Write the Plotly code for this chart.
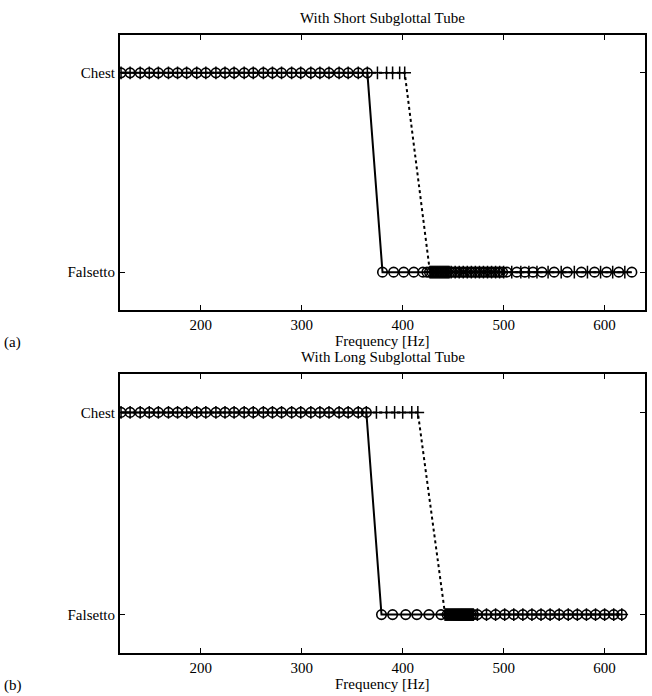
import plotly.graph_objects as go

# ---------------- data (frequencies in Hz; register: 1 = Chest, 0 = Falsetto) -------------
y_tick_vals = [1, 0]
y_tick_text = ["Chest", "Falsetto"]
x_tick_vals = [200, 300, 400, 500, 600]

# (a) short subglottal tube
a_up_chest_f = [121, 130, 140, 149, 158, 168, 177, 186, 196, 205, 215, 224, 233, 243,
                252, 262, 271, 280, 290, 299, 309, 318, 327, 337, 346, 356, 365]
a_up_fals_f = [380, 391, 401, 411, 420, 424, 426.5, 429, 431.5, 434, 436.5, 439, 441.5,
               444, 446.5, 449, 451.5, 454, 456.5, 459, 461.5, 464, 466.5, 469, 471.5,
               474, 476.5, 479, 481.5, 484, 486.5, 489, 491.5, 494, 496.5, 499,
               503, 513, 521, 529, 538, 550, 563, 577, 590, 602, 614, 627]
a_dn_chest_f = [121, 130, 140, 149, 158, 168, 177, 186, 196, 205, 215, 224, 233, 243,
                252, 262, 271, 280, 290, 299, 309, 318, 327, 337, 346, 356, 365,
                375, 384, 390, 397, 402]
a_dn_fals_f = [427, 428, 429, 430, 431, 432, 433, 434, 435, 436, 437, 438, 439, 440,
               441, 442, 443, 444, 445, 446, 448, 452, 456, 460, 464, 468, 472, 476,
               480, 484, 488, 492, 496, 500, 508, 517, 525, 533, 544, 557, 570, 583,
               596, 608, 620]

# (b) long subglottal tube
b_up_chest_f = [121, 130, 140, 149, 158, 168, 177, 186, 196, 205, 215, 224, 233, 243,
                252, 262, 271, 280, 290, 299, 309, 318, 327, 337, 346, 356, 364]
b_up_fals_f = [379, 390, 403, 414, 426, 438, 444, 446, 448, 450, 452, 454, 456, 458,
               460, 462, 464, 466, 468, 470, 474, 483, 492, 501, 510, 519, 528, 537,
               546, 555, 564, 573, 582, 591, 600, 609, 617]
b_dn_chest_f = [121, 130, 140, 149, 158, 168, 177, 186, 196, 205, 215, 224, 233, 243,
                252, 262, 271, 280, 290, 299, 309, 318, 327, 337, 346, 356, 364,
                374, 384, 392, 400, 409, 415]
b_dn_fals_f = [442, 443, 444, 445, 446, 447, 448, 449, 450, 451, 452, 453, 454, 455,
               456, 457, 458, 459, 460, 461, 462, 463, 464, 465, 466, 467, 468, 469,
               470, 474, 483, 492, 501, 510, 519, 528, 537, 546, 555, 564, 573, 582,
               591, 600, 609, 617]

titles = ["With Short Subglottal Tube", "With Long Subglottal Tube"]
panel_labels = ["(a)", "(b)"]
x_title = "Frequency [Hz]"

# ---------------- figure ----------------
W, H = 652, 696
FONT = "Liberation Serif"
fig = go.Figure()

def add_panel(up_c, up_f, dn_c, dn_f, xa, ya):
    up_x = up_c + up_f
    up_y = [1] * len(up_c) + [0] * len(up_f)
    dn_x = dn_c + dn_f
    dn_y = [1] * len(dn_c) + [0] * len(dn_f)
    fig.add_trace(go.Scatter(x=dn_x, y=dn_y, mode="lines+markers", xaxis=xa, yaxis=ya,
                             line=dict(color="black", width=2, dash="dot"),
                             marker=dict(symbol="cross-thin", size=9, color="black",
                                         line=dict(color="black", width=1.5)),
                             showlegend=False))
    fig.add_trace(go.Scatter(x=up_x, y=up_y, mode="lines+markers", xaxis=xa, yaxis=ya,
                             line=dict(color="black", width=2),
                             marker=dict(symbol="circle-open", size=9.5, color="black",
                                         line=dict(color="black", width=1.6)),
                             showlegend=False))

add_panel(a_up_chest_f, a_up_fals_f, a_dn_chest_f, a_dn_fals_f, "x", "y")
add_panel(b_up_chest_f, b_up_fals_f, b_dn_chest_f, b_dn_fals_f, "x2", "y2")

xl, xr = 120 / W, 645 / W
boxes = [(35, 310), (374, 653)]  # top/bottom pixel of each axes box

def xaxis_cfg(anchor):
    return dict(domain=[xl, xr], range=[120, 640], anchor=anchor,
                tickvals=x_tick_vals, ticks="inside", ticklen=5, tickwidth=1.2,
                tickcolor="black", showline=True, linecolor="black", linewidth=2,
                mirror="ticks", showgrid=False, zeroline=False,
                tickfont=dict(family=FONT, size=15, color="black"))

def yaxis_cfg(anchor, top, bot):
    return dict(domain=[1 - bot / H, 1 - top / H], range=[-0.19, 1.19], anchor=anchor,
                tickvals=y_tick_vals, ticktext=y_tick_text, ticks="inside", ticklen=5,
                tickwidth=1.2, tickcolor="black", showline=True, linecolor="black",
                linewidth=2, mirror="ticks", showgrid=False, zeroline=False,
                tickfont=dict(family=FONT, size=15, color="black"))

fig.update_layout(
    width=W, height=H, margin=dict(l=0, r=0, t=0, b=0),
    paper_bgcolor="white", plot_bgcolor="white",
    xaxis=xaxis_cfg("y"), yaxis=yaxis_cfg("x", *boxes[0]),
    xaxis2=xaxis_cfg("y2"), yaxis2=yaxis_cfg("x2", *boxes[1]),
    font=dict(family=FONT, size=15, color="black"),
)

anns = []
for i, (top, bot) in enumerate(boxes):
    anns.append(dict(text=titles[i], x=(xl + xr) / 2, y=1 - (top - 17) / H,
                     xref="paper", yref="paper", showarrow=False,
                     font=dict(family=FONT, size=15), yanchor="middle"))
    anns.append(dict(text=x_title, x=(xl + xr) / 2, y=1 - (bot + 31) / H,
                     xref="paper", yref="paper", showarrow=False,
                     font=dict(family=FONT, size=15), yanchor="middle"))
    anns.append(dict(text=panel_labels[i], x=2 / W, y=1 - (bot + 32) / H,
                     xref="paper", yref="paper", showarrow=False, xanchor="left",
                     font=dict(family=FONT, size=15), yanchor="middle"))
fig.update_layout(annotations=anns)

fig.write_html("out.html")
